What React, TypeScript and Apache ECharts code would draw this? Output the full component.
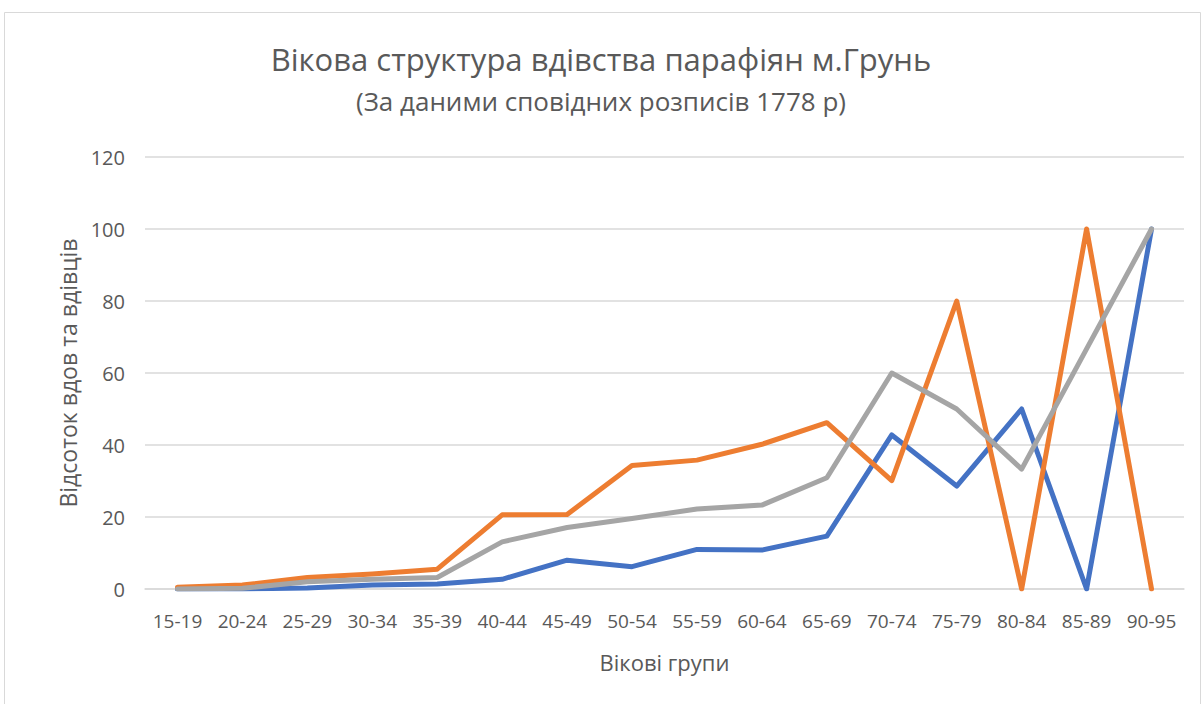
import React, { useEffect, useRef } from "react";
import * as echarts from "echarts";

const categories = ["15-19","20-24","25-29","30-34","35-39","40-44","45-49","50-54","55-59","60-64","65-69","70-74","75-79","80-84","85-89","90-95"];
const seriesBlue = [0, 0, 0.3, 1.1, 1.4, 2.7, 8.0, 6.2, 11.0, 10.8, 14.7, 42.8, 28.6, 50, 0, 100];
const seriesOrange = [0.5, 1.1, 3.2, 4.2, 5.5, 20.6, 20.7, 34.3, 35.8, 40.2, 46.2, 30.1, 80, 0, 100, 0];
const seriesGray = [0, 0.2, 2.0, 2.7, 3.2, 13.1, 17.1, 19.6, 22.2, 23.3, 30.9, 60, 50, 33.3, 66.7, 100];
const yTicks = [0, 20, 40, 60, 80, 100, 120];

const titleText = "Вікова структура вдівства парафіян м.Грунь";
const subtitleText = "(За даними сповідних розписів 1778 р)";
const xName = "Вікові групи";
const yName = "Відсоток вдов та вдівців";

const FONT = "'Open Sans', 'Noto Sans', sans-serif";

export default function App() {
  const ref = useRef<HTMLDivElement>(null);
  useEffect(() => {
    document.body.style.margin = "0";
    const chart = echarts.init(ref.current!, null, { renderer: "svg" });
    const mk = (name: string, data: number[], color: string) => ({
      name,
      type: "line",
      data,
      symbol: "none",
      lineStyle: { color, width: 5, cap: "round", join: "round" },
      itemStyle: { color },
    });
    chart.setOption({
      animation: false,
      backgroundColor: "#ffffff",
      textStyle: { fontFamily: FONT },
      title: [
        {
          text: titleText,
          left: "center",
          top: 38,
          textStyle: { fontFamily: FONT, fontSize: 31, fontWeight: "normal", color: "#595959" },
        },
        {
          text: subtitleText,
          left: "center",
          top: 83,
          textStyle: { fontFamily: FONT, fontSize: 26, fontWeight: "normal", color: "#595959" },
        },
      ],
      graphic: [
        {
          type: "rect",
          shape: { x: 4.5, y: 12.5, width: 1196, height: 700 },
          style: { fill: "none", stroke: "#d9d9d9", lineWidth: 1 },
          silent: true,
        },
      ],
      grid: { left: 145, right: 18, top: 157, bottom: 115, containLabel: false },
      xAxis: {
        type: "category",
        data: categories,
        boundaryGap: true,
        name: xName,
        nameLocation: "middle",
        nameGap: 62,
        nameTextStyle: { fontFamily: FONT, fontSize: 22, color: "#595959" },
        axisLine: { show: true, lineStyle: { color: "#d9d9d9", width: 1.5 } },
        axisTick: { show: false },
        axisLabel: { fontFamily: FONT, fontSize: 19, color: "#595959", margin: 22, interval: 0 },
      },
      yAxis: {
        type: "value",
        min: 0,
        max: 120,
        interval: 20,
        name: yName,
        nameLocation: "middle",
        nameGap: 66,
        nameRotate: 90,
        nameTextStyle: { fontFamily: FONT, fontSize: 23, color: "#595959" },
        axisLine: { show: false },
        axisTick: { show: false },
        axisLabel: {
          fontFamily: FONT,
          fontSize: 20,
          color: "#595959",
          margin: 20,
          formatter: (v: number) => (yTicks.includes(v) ? String(v) : ""),
        },
        splitLine: { show: true, lineStyle: { color: "#d9d9d9", width: 1.5 } },
      },
      series: [
        mk("Вдови/вдівці 1", seriesBlue, "#4472C4"),
        mk("Вдови/вдівці 2", seriesOrange, "#ED7D31"),
        mk("Вдови/вдівці 3", seriesGray, "#A5A5A5"),
      ],
    });
    return () => chart.dispose();
  }, []);
  return <div ref={ref} style={{ width: 1202, height: 704 }} />;
}
